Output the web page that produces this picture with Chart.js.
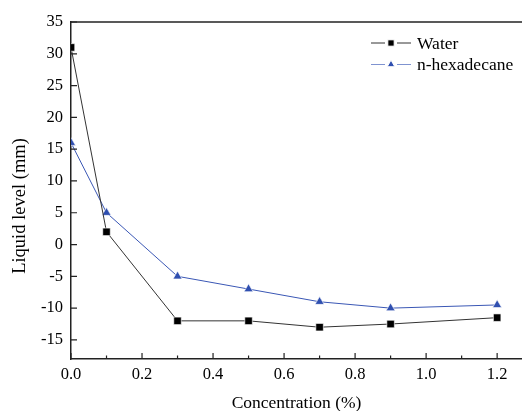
<!DOCTYPE html>
<html>
<head>
<meta charset="utf-8">
<script src="https://cdn.jsdelivr.net/npm/chart.js@4.4.0/dist/chart.umd.min.js"></script>
<style>
  html, body { margin: 0; padding: 0; background: #fff; }
  #wrap { width: 522px; height: 411px; }
</style>
</head>
<body>
<div id="wrap"><canvas id="levelChart"></canvas></div>
<script>
// concentration (%) on the x axis
const concentration = [0.0, 0.1, 0.3, 0.5, 0.7, 0.9, 1.2];
// liquid level (mm)
const waterLevel = [31, 2, -12, -12, -13, -12.5, -11.5];
const hexadecaneLevel = [16, 5, -5, -7, -9, -10, -9.5];

const xTickValues = [0.0, 0.2, 0.4, 0.6, 0.8, 1.0, 1.2];
const xMinorValues = [0.1, 0.3, 0.5, 0.7, 0.9, 1.1];
const yTickValues = [-15, -10, -5, 0, 5, 10, 15, 20, 25, 30, 35];

const serif = '"Liberation Serif", "Times New Roman", serif';
const axisColor = '#222';

// inward ticks, top frame line, y title and the line-marker-line legend
const framePlugin = {
    id: 'frame',
    afterDraw(chart) {
        const ctx = chart.ctx;
        const area = chart.chartArea;
        const xs = chart.scales.x;
        const ys = chart.scales.y;
        ctx.save();
        ctx.strokeStyle = axisColor;
        ctx.lineWidth = 1.5;
        ctx.beginPath();
        ctx.moveTo(area.left, area.top);
        ctx.lineTo(area.right, area.top);
        ctx.stroke();

        ctx.lineWidth = 1.2;
        ctx.beginPath();
        xTickValues.forEach(v => {
            const px = xs.getPixelForValue(v);
            ctx.moveTo(px, area.bottom);
            ctx.lineTo(px, area.bottom - 6);
        });
        xMinorValues.forEach(v => {
            const px = xs.getPixelForValue(v);
            ctx.moveTo(px, area.bottom);
            ctx.lineTo(px, area.bottom - 3.5);
        });
        yTickValues.forEach(v => {
            const py = ys.getPixelForValue(v);
            ctx.moveTo(area.left, py);
            ctx.lineTo(area.left + 6, py);
        });
        ctx.stroke();

        // y axis title
        ctx.save();
        ctx.fillStyle = '#000';
        ctx.font = '18.5px ' + serif;
        ctx.textAlign = 'center';
        ctx.textBaseline = 'middle';
        ctx.translate(20, 206);
        ctx.rotate(-Math.PI / 2);
        ctx.fillText('Liquid level (mm)', 0, 0);
        ctx.restore();

        // legend
        const lx = 371, ly = 43, rowGap = 21.5;
        chart.data.datasets.forEach((ds, i) => {
            const y = ly + i * rowGap;
            ctx.strokeStyle = ds.legendLine || ds.borderColor;
            ctx.lineWidth = 1;
            ctx.beginPath();
            ctx.moveTo(lx, y);
            ctx.lineTo(lx + 14, y);
            ctx.moveTo(lx + 26, y);
            ctx.lineTo(lx + 40, y);
            ctx.stroke();
            ctx.fillStyle = ds.pointBackgroundColor;
            ctx.strokeStyle = ds.pointBorderColor;
            Chart.helpers.drawPoint(ctx, {
                pointStyle: ds.pointStyle,
                radius: ds.pointRadius * 0.85,
                rotation: 0,
                borderWidth: 0.5
            }, lx + 20, y);
            ctx.fillStyle = '#000';
            ctx.font = '17.5px ' + serif;
            ctx.textBaseline = 'middle';
            ctx.textAlign = 'left';
            ctx.fillText(ds.label, lx + 46, y + 1);
        });
        ctx.restore();
    }
};

const ctx = document.getElementById('levelChart').getContext('2d');
const levelChart = new Chart(ctx, {
    type: 'line',
    data: {
        datasets: [
            {
                label: 'Water',
                data: concentration.map((c, i) => ({ x: c, y: waterLevel[i] })),
                borderColor: '#333',
                borderWidth: 1,
                pointStyle: 'rect',
                pointRadius: 5.3,
                pointBackgroundColor: '#000',
                pointBorderColor: '#fff',
                pointBorderWidth: 0.6,
                tension: 0
            },
            {
                label: 'n-hexadecane',
                data: concentration.map((c, i) => ({ x: c, y: hexadecaneLevel[i] })),
                borderColor: '#3a57b5',
                legendLine: '#7f93d0',
                borderWidth: 1,
                pointStyle: 'triangle',
                pointRadius: 5.2,
                pointBackgroundColor: '#2f4fb0',
                pointBorderColor: '#fff',
                pointBorderWidth: 0.6,
                tension: 0
            }
        ]
    },
    options: {
        responsive: true,
        maintainAspectRatio: false,
        animation: false,
        layout: {
            autoPadding: false,
            padding: { top: 22, right: 0, left: 0, bottom: 0 }
        },
        plugins: {
            legend: { display: false },
            tooltip: { enabled: false }
        },
        scales: {
            x: {
                type: 'linear',
                min: 0,
                max: 1.27,
                grid: { display: false, drawTicks: false },
                border: { display: true, color: axisColor, width: 1.5 },
                afterBuildTicks: (scale) => {
                    scale.ticks = xTickValues.map(v => ({ value: v }));
                },
                afterFit: (scale) => {
                    scale.height = 52;
                    scale.paddingLeft = 0;
                    scale.paddingRight = 0;
                },
                ticks: {
                    color: '#000',
                    padding: 6,
                    maxRotation: 0,
                    font: { family: serif, size: 16.5 },
                    callback: (v) => Number(v).toFixed(1)
                },
                title: {
                    display: true,
                    text: 'Concentration (%)',
                    color: '#000',
                    padding: { top: 3, bottom: 0 },
                    font: { family: serif, size: 17.5, lineHeight: 0.9 }
                }
            },
            y: {
                min: -18,
                max: 35,
                grid: { display: false, drawTicks: false },
                border: { display: true, color: axisColor, width: 1.5 },
                afterBuildTicks: (scale) => {
                    scale.ticks = yTickValues.map(v => ({ value: v }));
                },
                afterFit: (scale) => {
                    scale.width = 71;
                    scale.paddingTop = 0;
                    scale.paddingBottom = 0;
                },
                ticks: {
                    color: '#000',
                    padding: 8,
                    font: { family: serif, size: 16.5 }
                }
            }
        }
    },
    plugins: [framePlugin]
});
</script>
</body>
</html>
